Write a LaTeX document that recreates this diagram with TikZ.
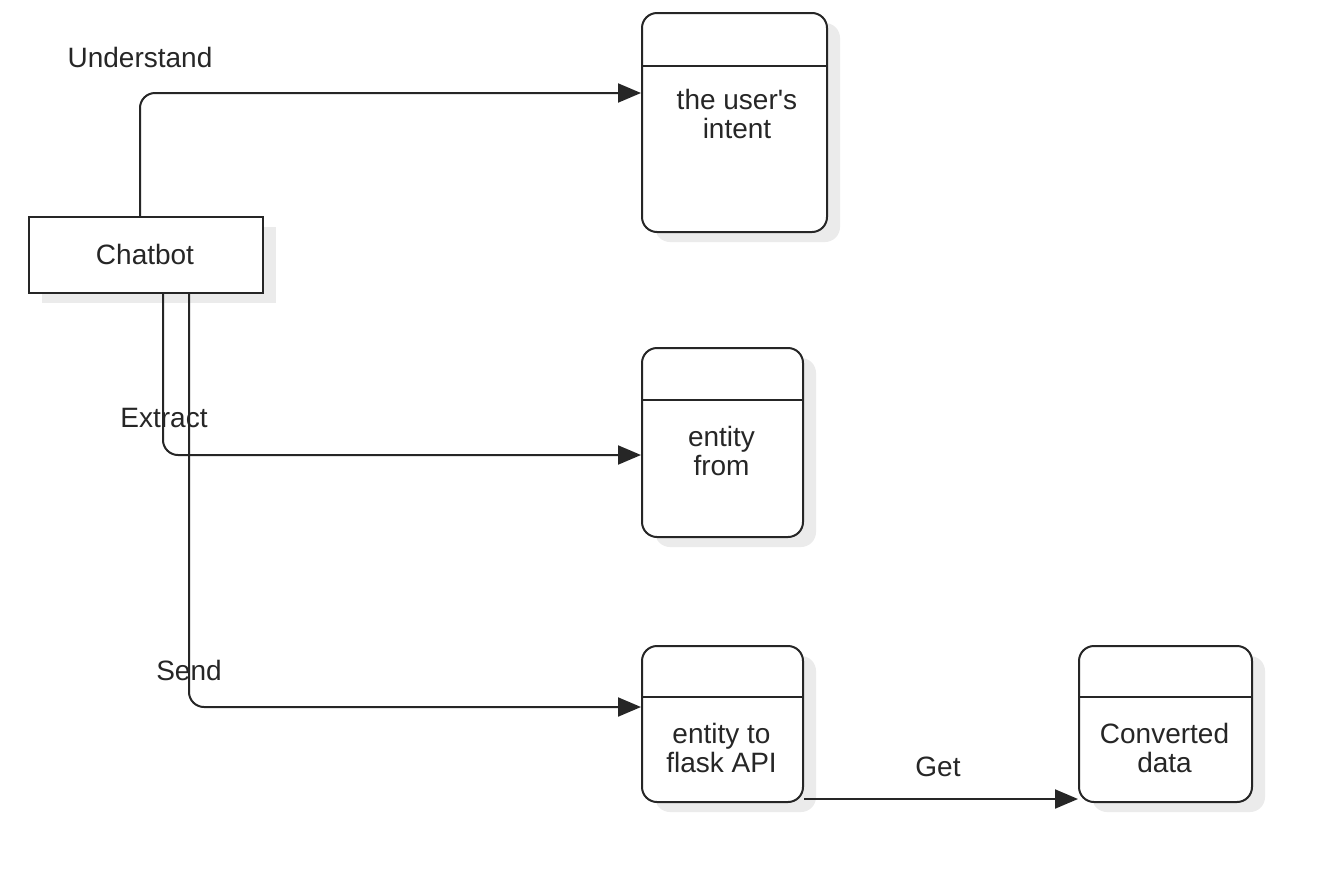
\documentclass[tikz,border=0pt]{standalone}
\usepackage{fontspec}
\setmainfont{Liberation Sans}[Ligatures=TeXOff]
\usetikzlibrary{arrows.meta,shadows}
\begin{document}
\begin{tikzpicture}[x=1pt,y=-1pt,
  txt/.style={font=\fontsize{28}{29}\selectfont, text=black!85, align=center, inner sep=0pt},
  shad/.style={drop shadow={shadow xshift=13pt, shadow yshift=-10pt, fill=black!8, opacity=1}},
  statebox/.style={draw=black!85, line width=2pt, fill=white, rounded corners=15pt, anchor=north west, inner sep=0pt, shad},
  classbox/.style={draw=black!85, line width=2pt, fill=white, anchor=north west, inner sep=0pt, shad},
  conn/.style={draw=black!85, line width=2pt, rounded corners=15pt, -{Triangle[length=23pt,width=19pt]}},
  hdr/.style={draw=black!85, line width=2pt}
]
\useasboundingbox[fill=white] (0,0) rectangle (1336,876);

% Chatbot
\node[classbox, minimum width=234pt, minimum height=76pt] (chat) at (28,216) {};
\node[txt] (chatt) at (145,254) {Chatbot};

% state boxes
\node[statebox, minimum width=185pt, minimum height=219pt] (b1) at (641,12) {};
\draw[hdr] (b1.west |- 0,66) -- (b1.east |- 0,66);
\node[txt] (b1t) at (737,114) {the user's\\intent};

\node[statebox, minimum width=161pt, minimum height=189pt] (b2) at (641,347) {};
\draw[hdr] (b2.west |- 0,400) -- (b2.east |- 0,400);
\node[txt] (b2t) at (721.5,451) {entity\\from};

\node[statebox, minimum width=161pt, minimum height=156pt] (b3) at (641,645) {};
\draw[hdr] (b3.west |- 0,697) -- (b3.east |- 0,697);
\node[txt] (b3t) at (721.5,748) {entity to\\flask API};

\node[statebox, minimum width=173pt, minimum height=156pt] (b4) at (1078,645) {};
\draw[hdr] (b4.west |- 0,697) -- (b4.east |- 0,697);
\node[txt] (b4t) at (1164.5,748) {Converted\\data};

% connectors
\draw[conn] (chat.north -| 140,0) |- (b1.west |- 0,93);
\draw[conn] (chat.south -| 163,0) |- (b2.west |- 0,455);
\draw[conn] (chat.south -| 189,0) |- (b3.west |- 0,707);
\draw[conn] (b3.east |- 0,799) -- (b4.west |- 0,799);

% labels
\node[txt] (lu) at (140,57) {Understand};
\node[txt] (le) at (164,418) {Extract};
\node[txt] (ls) at (189,670) {Send};
\node[txt] (lg) at (938,767) {Get};
\end{tikzpicture}
\end{document}
